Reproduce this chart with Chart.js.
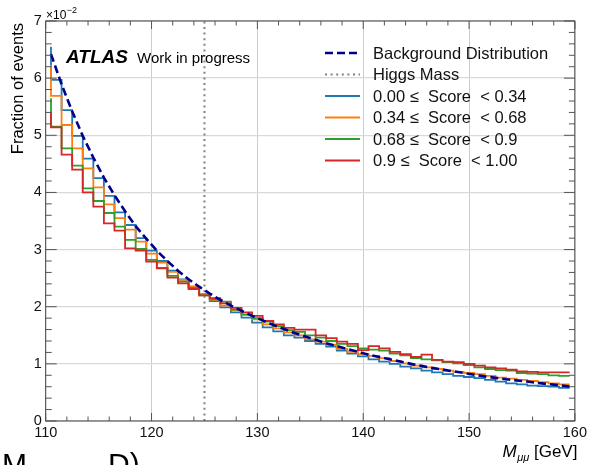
<!DOCTYPE html>
<html>
<head>
<meta charset="utf-8">
<script src="https://cdn.jsdelivr.net/npm/chart.js@4.4.0/dist/chart.umd.min.js"></script>
<style>
  html, body { margin: 0; padding: 0; background: #fff; }
  canvas { display: block; }
</style>
</head>
<body>
<canvas id="massChart" width="590" height="465"></canvas>
<script>
// Dimuon invariant mass, 1 GeV bins (bin centres in GeV)
const massCenters = [
  110.5, 111.5, 112.5, 113.5, 114.5, 115.5, 116.5, 117.5, 118.5, 119.5,
  120.5, 121.5, 122.5, 123.5, 124.5, 125.5, 126.5, 127.5, 128.5, 129.5,
  130.5, 131.5, 132.5, 133.5, 134.5, 135.5, 136.5, 137.5, 138.5, 139.5,
  140.5, 141.5, 142.5, 143.5, 144.5, 145.5, 146.5, 147.5, 148.5, 149.5,
  150.5, 151.5, 152.5, 153.5, 154.5, 155.5, 156.5, 157.5, 158.5, 159.5
];

// Fraction of events, in units of 1e-2
const backgroundDist = [
  6.42, 5.89, 5.42, 4.99, 4.61, 4.26, 3.95, 3.67, 3.41, 3.19,
  2.98, 2.80, 2.63, 2.48, 2.35, 2.23, 2.12, 2.02, 1.93, 1.84,
  1.76, 1.68, 1.61, 1.54, 1.48, 1.42, 1.36, 1.31, 1.26, 1.21,
  1.16, 1.12, 1.08, 1.04, 1.00, 0.965, 0.93, 0.90, 0.87, 0.84,
  0.81, 0.78, 0.755, 0.73, 0.71, 0.69, 0.665, 0.645, 0.625, 0.605
];
const scoreLow = [
  6.55, 5.97, 5.44, 4.99, 4.59, 4.25, 3.94, 3.65, 3.43, 3.20,
  2.98, 2.80, 2.63, 2.48, 2.35, 2.22, 2.10, 1.99, 1.90, 1.81,
  1.72, 1.64, 1.57, 1.50, 1.46, 1.40, 1.35, 1.30, 1.23, 1.18,
  1.13, 1.08, 1.04, 1.00, 0.95, 0.92, 0.88, 0.85, 0.82, 0.79,
  0.77, 0.75, 0.72, 0.69, 0.66, 0.64, 0.62, 0.61, 0.60, 0.58
];
const scoreMidLow = [
  6.23, 5.69, 5.18, 4.77, 4.42, 4.09, 3.79, 3.55, 3.35, 3.14,
  2.93, 2.77, 2.61, 2.47, 2.35, 2.22, 2.12, 2.02, 1.94, 1.86,
  1.78, 1.69, 1.62, 1.55, 1.50, 1.43, 1.39, 1.33, 1.26, 1.21,
  1.17, 1.14, 1.10, 1.05, 1.01, 0.97, 0.94, 0.91, 0.88, 0.86,
  0.84, 0.82, 0.79, 0.76, 0.74, 0.72, 0.70, 0.68, 0.66, 0.64
];
const scoreMidHigh = [
  5.65, 5.15, 4.77, 4.47, 4.07, 3.85, 3.64, 3.40, 3.17, 3.01,
  2.82, 2.68, 2.54, 2.44, 2.33, 2.20, 2.13, 2.09, 1.95, 1.86,
  1.80, 1.74, 1.66, 1.59, 1.56, 1.50, 1.46, 1.40, 1.35, 1.31,
  1.27, 1.25, 1.23, 1.18, 1.15, 1.10, 1.08, 1.06, 1.03, 1.01,
  0.98, 0.94, 0.91, 0.89, 0.88, 0.84, 0.83, 0.82, 0.80, 0.79
];
const scoreHigh = [
  5.41, 5.14, 4.66, 4.40, 4.00, 3.75, 3.46, 3.33, 3.02, 2.98,
  2.79, 2.67, 2.51, 2.41, 2.31, 2.20, 2.15, 2.06, 1.98, 1.90,
  1.84, 1.75, 1.69, 1.63, 1.60, 1.60, 1.50, 1.45, 1.39, 1.35,
  1.24, 1.31, 1.27, 1.21, 1.17, 1.12, 1.16, 1.07, 1.04, 1.03,
  1.00, 0.97, 0.94, 0.92, 0.90, 0.87, 0.86, 0.85, 0.85, 0.85
];

const higgsMass = 125;
const massTicks = [110, 120, 130, 140, 150, 160];
const fractionTicks = [0, 1, 2, 3, 4, 5, 6, 7];
const legendLabels = [
  'Background Distribution',
  'Higgs Mass',
  '0.00 \u2264  Score  < 0.34',
  '0.34 \u2264  Score  < 0.68',
  '0.68 \u2264  Score  < 0.9',
  '0.9 \u2264  Score  < 1.00'
];

const FONT = '"Liberation Sans", Arial, Helvetica, sans-serif';

function toPoints(values) {
  return values.map((v, i) => ({ x: massCenters[i], y: v }));
}

function histSet(label, values, color, order) {
  return {
    label: label,
    data: toPoints(values),
    borderColor: color,
    borderWidth: 1.8,
    stepped: 'after',
    pointRadius: 0,
    order: order
  };
}

// frame, inward ticks, labels and legend in the usual ATLAS look
const atlasDecor = {
  id: 'atlasDecor',
  afterDraw(chart) {
    const { ctx, chartArea: a, scales: { x, y } } = chart;
    ctx.save();

    ctx.strokeStyle = '#444';
    ctx.lineWidth = 1;
    ctx.strokeRect(a.left, a.top, a.right - a.left, a.bottom - a.top);

    ctx.strokeStyle = '#555';
    ctx.beginPath();
    for (let v = 110; v <= 160; v += 2) {
      const px = x.getPixelForValue(v);
      const len = v % 10 === 0 ? 8 : 4.5;
      ctx.moveTo(px, a.bottom); ctx.lineTo(px, a.bottom - len);
      ctx.moveTo(px, a.top); ctx.lineTo(px, a.top + len);
    }
    for (let k = 0; k <= 35; k++) {
      const py = y.getPixelForValue(k * 0.2);
      const len = k % 5 === 0 ? 11 : 6;
      ctx.moveTo(a.left, py); ctx.lineTo(a.left + len, py);
      ctx.moveTo(a.right, py); ctx.lineTo(a.right - len, py);
    }
    ctx.stroke();

    ctx.fillStyle = '#000';
    ctx.textBaseline = 'alphabetic';

    // exponent
    ctx.textAlign = 'left';
    ctx.font = '12px ' + FONT;
    ctx.fillText('\u00d710', 46, 19);
    const expX = 46 + ctx.measureText('\u00d710').width;
    ctx.font = '9px ' + FONT;
    ctx.fillText('\u22122', expX + 0.5, 13);

    // experiment label
    ctx.font = 'italic bold 19px ' + FONT;
    ctx.fillText('ATLAS', 66, 63);
    ctx.font = '15px ' + FONT;
    ctx.fillText('Work in progress', 137, 63);

    // y title
    ctx.save();
    ctx.translate(23, 23);
    ctx.rotate(-Math.PI / 2);
    ctx.textAlign = 'right';
    ctx.font = '16.5px ' + FONT;
    ctx.fillText('Fraction of events', 0, 0);
    ctx.restore();

    // x title, right aligned to the axis end
    ctx.textAlign = 'left';
    ctx.font = '17px ' + FONT;
    const unit = ' [GeV]';
    const unitW = ctx.measureText(unit).width;
    ctx.font = 'italic 11px ' + FONT;
    const subW = ctx.measureText('\u03bc\u03bc').width;
    ctx.font = 'italic 17px ' + FONT;
    const mW = ctx.measureText('M').width;
    const tx = a.right + 2 - unitW - subW - mW;
    ctx.fillText('M', tx, 457);
    ctx.font = 'italic 11px ' + FONT;
    ctx.fillText('\u03bc\u03bc', tx + mW + 0.5, 461);
    ctx.font = '17px ' + FONT;
    ctx.fillText(unit, tx + mW + subW + 0.5, 457);

    // caption running off the lower edge
    ctx.font = '30px ' + FONT;
    ctx.fillText('M', 2, 474);
    ctx.fillText('D)', 108, 474);

    // legend
    const sets = chart.data.datasets;
    ctx.font = '16.5px ' + FONT;
    ctx.textBaseline = 'middle';
    sets.forEach((ds, i) => {
      const rowY = 53 + i * 21.5;
      ctx.save();
      ctx.strokeStyle = ds.borderColor;
      ctx.lineWidth = ds.borderWidth;
      ctx.setLineDash(ds.borderDash || []);
      ctx.beginPath();
      ctx.moveTo(325, rowY);
      ctx.lineTo(360, rowY);
      ctx.stroke();
      ctx.restore();
      ctx.fillStyle = '#111';
      ctx.fillText(legendLabels[i], 373, rowY + 1);
    });

    ctx.restore();
  }
};

new Chart(document.getElementById('massChart'), {
  type: 'line',
  data: {
    datasets: [
      {
        label: legendLabels[0],
        data: toPoints(backgroundDist),
        borderColor: '#00008b',
        borderWidth: 2.6,
        borderDash: [8, 4],
        pointRadius: 0,
        tension: 0,
        order: 0
      },
      {
        label: legendLabels[1],
        data: [{ x: higgsMass, y: 0 }, { x: higgsMass, y: 7 }],
        borderColor: '#808080',
        borderWidth: 2,
        borderDash: [2, 3.6],
        pointRadius: 0,
        order: 1
      },
      histSet(legendLabels[2], scoreLow, '#1f77b4', 5),
      histSet(legendLabels[3], scoreMidLow, '#ff7f0e', 4),
      histSet(legendLabels[4], scoreMidHigh, '#2ca02c', 3),
      histSet(legendLabels[5], scoreHigh, '#d62728', 2)
    ]
  },
  options: {
    responsive: false,
    devicePixelRatio: 1,
    animation: false,
    layout: { padding: { top: 21, right: 11.3, left: 0, bottom: 0 } },
    plugins: {
      legend: { display: false },
      tooltip: { enabled: false }
    },
    scales: {
      x: {
        type: 'linear',
        min: 110,
        max: 160,
        afterBuildTicks: s => { s.ticks = massTicks.map(v => ({ value: v })); },
        afterFit: s => { s.height = 44; },
        grid: { color: '#cccccc', lineWidth: 1, drawTicks: false },
        border: { display: false },
        ticks: {
          padding: 3,
          maxRotation: 0,
          autoSkip: false,
          color: '#111',
          font: { family: FONT, size: 14.5 }
        }
      },
      y: {
        type: 'linear',
        min: 0,
        max: 7,
        afterBuildTicks: s => { s.ticks = fractionTicks.map(v => ({ value: v })); },
        afterFit: s => { s.width = 45.7; },
        grid: { color: '#d9d9d9', lineWidth: 1.3, drawTicks: false },
        border: { display: false },
        ticks: {
          padding: 4,
          color: '#111',
          font: { family: FONT, size: 14.5 }
        }
      }
    }
  },
  plugins: [atlasDecor]
});
</script>
</body>
</html>
